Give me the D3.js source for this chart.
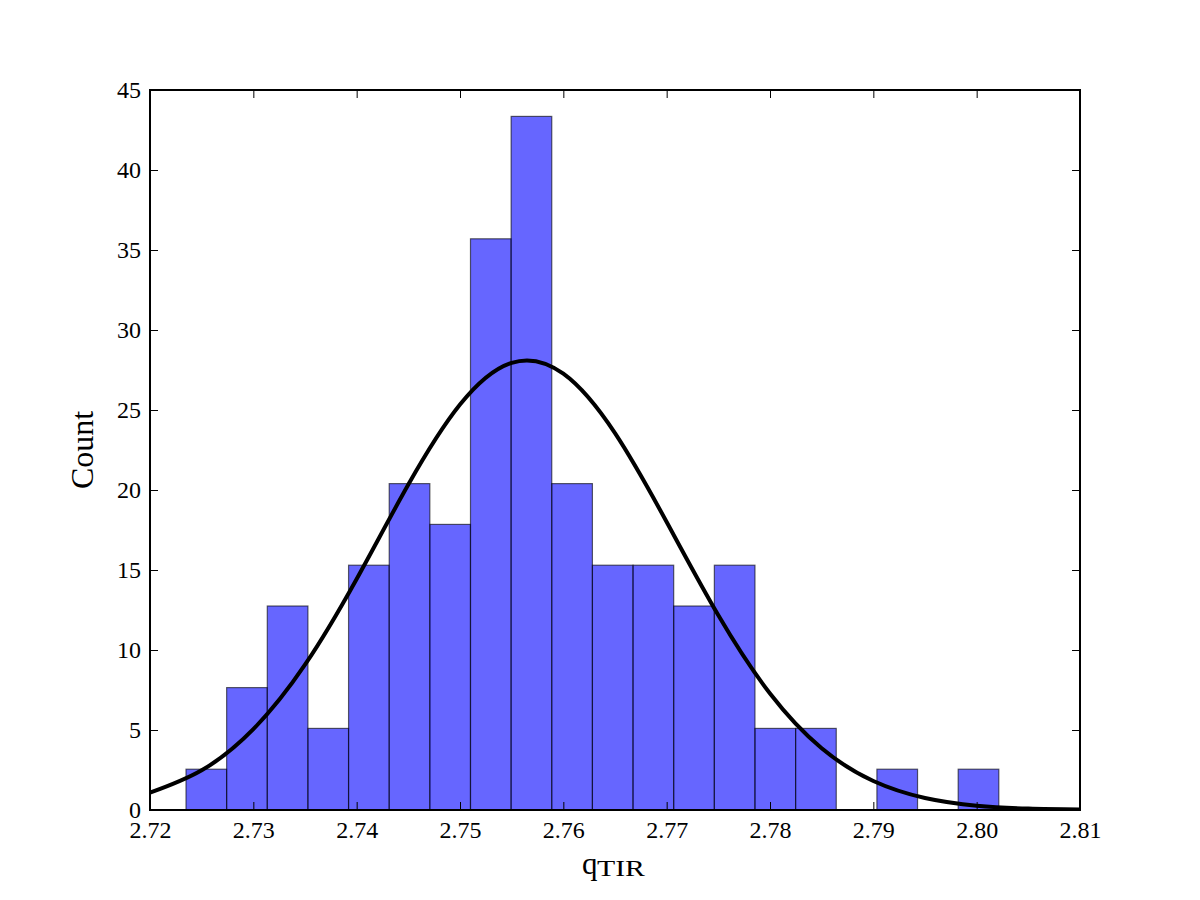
<!DOCTYPE html>
<html>
<head>
<meta charset="utf-8">
<script src="https://cdn.jsdelivr.net/npm/d3@7"></script>
<style>
    body { margin: 0; background: #fff; }
    text { font-family: "Liberation Serif", "DejaVu Serif", serif; fill: #000; }
</style>
</head>
<body>
<div id="chart"></div>
<script>
// Histogram bins (left edge of first bin, bin width) and bar heights
const binStart = 2.723484;
const binWidth = 0.003933;
const binHeights = [2.55, 7.65, 12.75, 5.1, 15.3, 20.4, 17.85, 35.7, 43.35, 20.4,
                    15.3, 15.3, 12.75, 15.3, 5.1, 5.1, 0, 2.55, 0, 2.55];

// Fitted curve, values
const curveX = [2.720, 2.725, 2.730, 2.735, 2.740, 2.745, 2.750, 2.755, 2.760,
                2.765, 2.770, 2.775, 2.780, 2.785, 2.790, 2.795, 2.800, 2.805, 2.810];
const curveY = [1.08, 2.48, 5.05, 9.08, 14.44, 20.34, 25.34, 27.95, 27.27,
                23.55, 18.0, 12.17, 7.28, 3.86, 1.81, 0.75, 0.27, 0.09, 0.03];

// Tick labels
const xTicks = [2.72, 2.73, 2.74, 2.75, 2.76, 2.77, 2.78, 2.79, 2.80, 2.81];
const yTicks = [0, 5, 10, 15, 20, 25, 30, 35, 40, 45];

drawHistogram();

function drawHistogram() {
    const margin = {top: 90, right: 120, bottom: 90, left: 150},
    width = 1200 - margin.left - margin.right,
    height = 900 - margin.top - margin.bottom;

    const svg = d3.select("#chart")
        .append("svg")
        .attr("width", 1200)
        .attr("height", 900)
          .append("g")
          .attr("transform", `translate(${margin.left},${margin.top})`);

    const xScale = d3.scaleLinear()
        .domain([2.72, 2.81])
        .range([0, width]);

    const yScale = d3.scaleLinear()
        .domain([0, 45])
        .range([height, 0]);

    svg.append("clipPath")
        .attr("id", "plot-clip")
        .append("rect")
        .attr("width", width)
        .attr("height", height);

    // Bars
    const bins = binHeights.map((h, i) => ({
        x0: binStart + i * binWidth,
        x1: binStart + (i + 1) * binWidth,
        h: h
    }));

    svg.append("g")
        .attr("clip-path", "url(#plot-clip)")
        .selectAll("rect")
        .data(bins)
        .join("rect")
        .attr("x", d => xScale(d.x0))
        .attr("y", d => yScale(d.h))
        .attr("width", d => xScale(d.x1) - xScale(d.x0))
        .attr("height", d => yScale(0) - yScale(d.h))
        .attr("fill", "blue")
        .attr("fill-opacity", 0.6)
        .attr("stroke", "black")
        .attr("stroke-opacity", 0.6)
        .attr("stroke-width", 1.2);

    // Curve
    const line = d3.line()
        .x(d => xScale(d[0]))
        .y(d => yScale(d[1]))
        .curve(d3.curveNatural);

    svg.append("path")
        .datum(curveX.map((x, i) => [x, curveY[i]]))
        .attr("clip-path", "url(#plot-clip)")
        .attr("d", line)
        .attr("fill", "none")
        .attr("stroke", "black")
        .attr("stroke-width", 4);

    // Axes with inward ticks on all four sides
    const xAxis = d3.axisBottom(xScale).tickValues(xTicks).tickSizeInner(-8).tickSizeOuter(0)
        .tickPadding(11).tickFormat(d3.format(".2f"));
    const xAxisTop = d3.axisTop(xScale).tickValues(xTicks).tickSizeInner(-8).tickSizeOuter(0).tickFormat("");
    const yAxis = d3.axisLeft(yScale).tickValues(yTicks).tickSizeInner(-8).tickSizeOuter(0)
        .tickPadding(9).tickFormat(d3.format("d"));
    const yAxisRight = d3.axisRight(yScale).tickValues(yTicks).tickSizeInner(-8).tickSizeOuter(0).tickFormat("");

    const axes = [
        svg.append("g").attr("transform", `translate(0,${height})`).call(xAxis),
        svg.append("g").call(xAxisTop),
        svg.append("g").call(yAxis),
        svg.append("g").attr("transform", `translate(${width},0)`).call(yAxisRight)
    ];
    axes.forEach(g => {
        g.select(".domain").remove();
        g.selectAll(".tick line").attr("stroke", "#000").attr("stroke-width", 1);
        g.selectAll(".tick text")
            .attr("font-family", "Liberation Serif, DejaVu Serif, serif")
            .attr("font-size", 24)
            .attr("fill", "#000");
    });

    // Frame
    svg.append("rect")
        .attr("width", width)
        .attr("height", height)
        .attr("fill", "none")
        .attr("stroke", "black")
        .attr("stroke-width", 2);

    // Y label
    svg.append("text")
        .attr("transform", "rotate(-90)")
        .attr("x", -height / 2)
        .attr("y", 93 - margin.left)
        .attr("text-anchor", "middle")
        .attr("font-size", 32)
        .text("Count");

    // X label: q with subscript TIR
    svg.append("text")
        .attr("x", 582 - margin.left)
        .attr("y", 874 - margin.top)
        .attr("font-size", 31)
        .text("q");
    svg.append("text")
        .attr("x", 597 - margin.left)
        .attr("y", 876 - margin.top)
        .attr("font-size", 24)
        .attr("textLength", 48)
        .attr("lengthAdjust", "spacingAndGlyphs")
        .text("TIR");
}
</script>
</body>
</html>
